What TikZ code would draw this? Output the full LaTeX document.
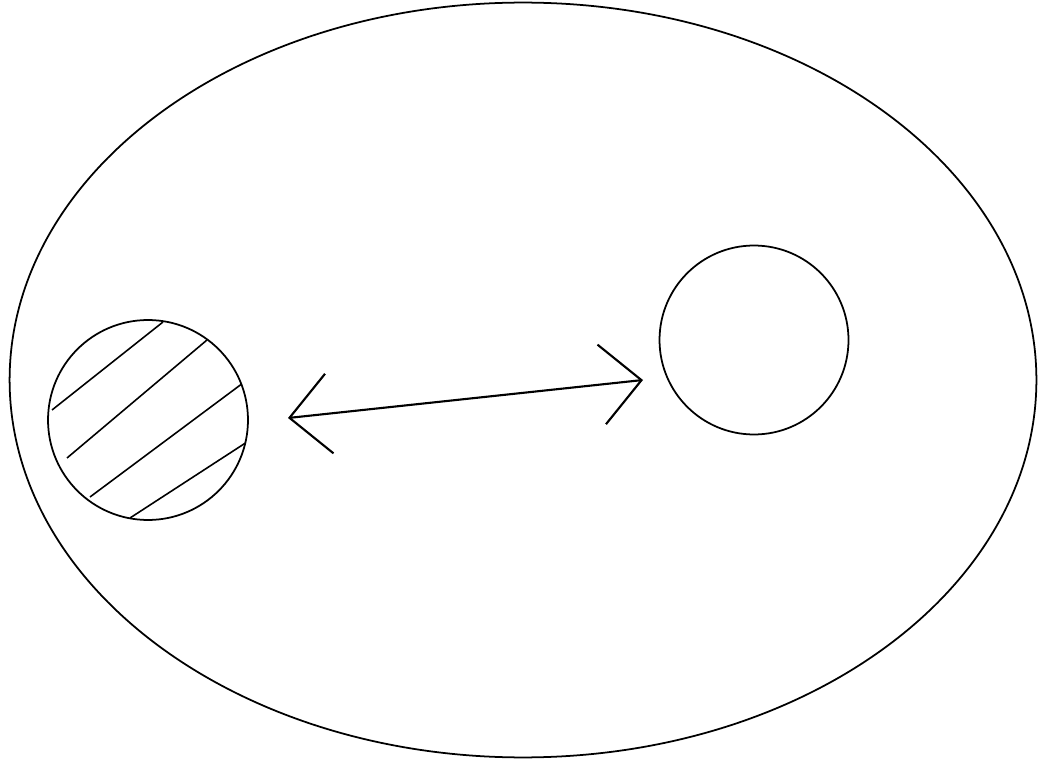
\documentclass[tikz,border=0pt]{standalone}
\usepackage{tikz}
\usetikzlibrary{arrows.meta, shapes.geometric}

\begin{document}
\begin{tikzpicture}[
    x=0.02cm, y=-0.02cm,
    outline/.style={draw=black, line width=1pt, inner sep=0pt, outer sep=0pt},
    hatch/.style={draw=black, line width=0.9pt},
    arrow/.style={{Straight Barb[length=0.8cm, width=1.6cm]}-{Straight Barb[length=0.8cm, width=1.6cm]}, line width=1.2pt},
  ]
  \useasboundingbox (0,0) rectangle (1040,766);

  \node[outline, ellipse, minimum width=20.54cm, minimum height=15.1cm] (cell) at (523,380) {};
  \node[outline, circle, minimum size=4cm] (blob) at (148,420) {};
  \node[outline, circle, minimum size=3.78cm] (ring) at (754,340) {};

  % hatching inside the left circle
  \begin{scope}
    \clip (148,420) circle[radius=100];
    \draw[hatch] (52,410) -- (163,322);
    \draw[hatch] (67,458) -- (207,340);
    \draw[hatch] (90,497) -- (243,383);
    \draw[hatch] (130,518) -- (247,442);
  \end{scope}

  \coordinate (tipL) at (288,418);
  \coordinate (tipR) at (643,380);
  \draw[arrow] (tipL) -- (tipR);

\end{tikzpicture}
\end{document}
